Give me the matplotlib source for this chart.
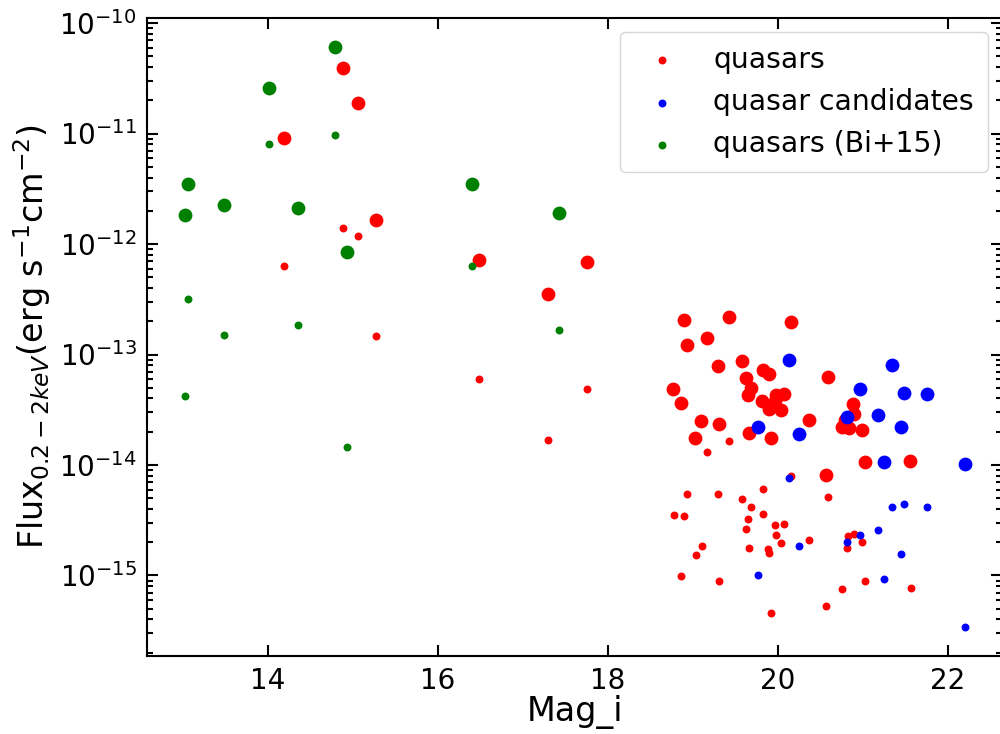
import matplotlib
matplotlib.use("Agg")
import matplotlib.pyplot as plt
from matplotlib.ticker import LogLocator, NullFormatter

# quasars: large and small markers
qso_mag_big = [14.88, 15.06, 14.19, 15.27, 16.48, 17.75, 17.30,
               18.89, 19.42, 20.15, 18.93, 19.16, 19.30, 19.58, 19.82, 19.89,
               19.63, 20.59, 19.68, 19.65, 18.77, 18.86, 19.81, 19.98, 20.07,
               19.97, 19.90, 20.04, 19.10, 19.31, 19.03, 19.66, 19.92, 20.36,
               20.88, 20.90, 20.79, 20.75, 20.83, 20.99, 21.02, 21.55, 20.57]
qso_flux_big = [3.92e-11, 1.89e-11, 9.12e-12, 1.65e-12, 7.16e-13, 6.83e-13, 3.51e-13,
                2.04e-13, 2.20e-13, 1.97e-13, 1.23e-13, 1.41e-13, 7.81e-14, 8.67e-14,
                7.29e-14, 6.60e-14, 6.18e-14, 6.25e-14, 5.00e-14, 4.33e-14, 4.88e-14,
                3.63e-14, 3.77e-14, 4.27e-14, 4.40e-14, 3.76e-14, 3.19e-14, 3.13e-14,
                2.50e-14, 2.37e-14, 1.75e-14, 1.95e-14, 1.74e-14, 2.58e-14, 3.55e-14,
                2.92e-14, 2.54e-14, 2.20e-14, 2.14e-14, 2.06e-14, 1.06e-14, 1.09e-14,
                8.07e-15]
qso_mag_small = [14.89, 15.06, 14.19, 15.27, 16.49, 17.75, 17.30,
                 20.15, 19.42, 19.16, 18.93, 19.29, 19.82, 19.58, 20.59, 19.68,
                 18.78, 18.89, 19.82, 19.65, 19.97, 20.07, 19.62, 19.98, 20.36,
                 20.04, 20.82, 20.89, 20.81, 20.99, 19.11, 19.04, 19.66, 19.88,
                 19.89, 18.86, 19.31, 21.02, 20.75, 21.56, 20.57, 19.92]
qso_flux_small = [1.41e-12, 1.17e-12, 6.30e-13, 1.47e-13, 6.05e-14, 4.88e-14, 1.70e-14,
                  7.95e-15, 1.66e-14, 1.30e-14, 5.47e-15, 5.51e-15, 6.07e-15, 4.92e-15,
                  5.13e-15, 4.17e-15, 3.53e-15, 3.48e-15, 3.58e-15, 3.27e-15, 2.85e-15,
                  2.95e-15, 2.64e-15, 2.33e-15, 2.09e-15, 1.95e-15, 2.29e-15, 2.35e-15,
                  1.79e-15, 2.00e-15, 1.84e-15, 1.53e-15, 1.76e-15, 1.73e-15, 1.61e-15,
                  9.8e-16, 8.9e-16, 8.9e-16, 7.5e-16, 7.76e-16, 5.25e-16, 4.59e-16]

# quasar candidates
cand_mag = [20.13, 21.34, 20.97, 21.48, 21.75, 21.18, 20.81, 19.77, 20.25, 21.45, 21.25, 22.20]
cand_flux_big = [8.85e-14, 8.03e-14, 4.84e-14, 4.52e-14, 4.39e-14, 2.86e-14,
                 2.72e-14, 2.19e-14, 1.90e-14, 2.19e-14, 1.07e-14, 1.03e-14]
cand_flux_small = [7.6e-15, 4.17e-15, 2.33e-15, 4.47e-15, 4.20e-15, 2.60e-15,
                   2.00e-15, 1.01e-15, 1.85e-15, 1.55e-15, 9.3e-16, 3.4e-16]

# quasars from Bi+15
bi15_mag = [13.03, 13.06, 13.49, 14.02, 14.35, 14.79, 14.93, 16.40, 17.43]
bi15_flux_big = [1.83e-12, 3.47e-12, 2.24e-12, 2.60e-11, 2.14e-12,
                 6.07e-11, 8.47e-13, 3.47e-12, 1.91e-12]
bi15_flux_small = [4.2e-14, 3.16e-13, 1.51e-13, 7.98e-12, 1.86e-13,
                   9.7e-12, 1.47e-14, 6.37e-13, 1.68e-13]

fig = plt.figure(figsize=(10, 7.34), dpi=100)
# right spine sits just past the image edge, as in the original crop
ax = fig.add_axes([0.147, 0.106, 0.855, 0.870])

big, small = 80, 22
ax.scatter(qso_mag_big, qso_flux_big, s=big, c="red")
ax.scatter(qso_mag_small, qso_flux_small, s=small, c="red", label="quasars")
ax.scatter(cand_mag, cand_flux_big, s=big, c="blue")
ax.scatter(cand_mag, cand_flux_small, s=small, c="blue", label="quasar candidates")
ax.scatter(bi15_mag, bi15_flux_big, s=big, c="green")
ax.scatter(bi15_mag, bi15_flux_small, s=small, c="green", label="quasars (Bi+15)")

ax.set_yscale("log")
ax.set_xlim(12.58, 22.635)
ax.set_ylim(1.86e-16, 1.12e-10)
ax.set_xticks([14, 16, 18, 20, 22])
ax.yaxis.set_major_locator(LogLocator(base=10, numticks=20))
ax.yaxis.set_minor_locator(LogLocator(base=10, subs=range(2, 10), numticks=20))
ax.yaxis.set_minor_formatter(NullFormatter())

ax.tick_params(which="both", direction="in", top=True, right=True, labelsize=20, width=1.5)
ax.tick_params(which="major", length=8, pad=7.5)
ax.tick_params(which="minor", length=4.5)
for sp in ax.spines.values():
    sp.set_linewidth(1.5)

ax.set_xlabel("Mag_i", fontsize=24, labelpad=0)
ax.set_ylabel(r"Flux$_{0.2-2keV}$(erg s$^{-1}$cm$^{-2}$)", fontsize=24, labelpad=4)

ax.legend(loc="upper right", fontsize=20.3, borderpad=0.5)

fig.savefig("out.png", dpi=100)
